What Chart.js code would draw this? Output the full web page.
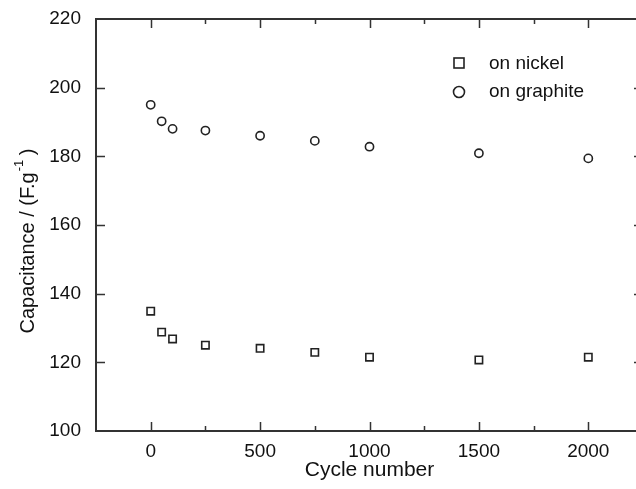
<!DOCTYPE html>
<html>
<head>
<meta charset="utf-8">
<script src="https://cdn.jsdelivr.net/npm/chart.js@4/dist/chart.umd.min.js"></script>
<style>
  html, body { margin: 0; padding: 0; background: #fff; overflow: hidden; }
  #wrap { width: 636px; height: 489px; overflow: hidden; position: relative; }
  #box { width: 660px; height: 489px; position: absolute; left: 0; top: 0; }
</style>
</head>
<body>
<div id="wrap"><div id="box"><canvas id="myChart"></canvas></div></div>
<script>
// cycle numbers and capacitance values (F/g)
var cycles = [0, 50, 100, 250, 500, 750, 1000, 1500, 2000];
var onNickel = [134.9, 128.8, 126.8, 125.0, 124.1, 122.9, 121.5, 120.7, 121.5];
var onGraphite = [195.0, 190.2, 188.0, 187.5, 186.0, 184.5, 182.8, 180.9, 179.4];
var seriesNames = ["on nickel", "on graphite"];
var xTitle = "Cycle number";

var fontName = "'Liberation Sans', Arial, sans-serif";
var inkColor = "#222";
var axisColor = "#333";
var textColor = "#111";

function punkte(ys) {
    var out = [];
    for (let i = 0; i < cycles.length; i++) {
        out.push({x: cycles[i], y: ys[i]});
    }
    return out;
}

// frame, inward ticks, y title and legend are drawn here
var rahmen = {
    id: 'rahmen',
    afterDraw: function (chart) {
        var c = chart.ctx;
        var a = chart.chartArea;
        var xs = chart.scales.x;
        var ys = chart.scales.y;
        c.save();
        c.strokeStyle = axisColor;
        c.lineWidth = 2;
        c.strokeRect(a.left, a.top, a.right - a.left, a.bottom - a.top);

        c.lineWidth = 1.5;
        c.beginPath();
        xs.ticks.forEach(function (t) {
            if (t.value <= xs.min || t.value >= xs.max) return;
            var px = Math.round(xs.getPixelForValue(t.value)) + 0.5;
            var len = (t.value % 500 === 0) ? 9 : 5;
            c.moveTo(px, a.bottom); c.lineTo(px, a.bottom - len);
            c.moveTo(px, a.top); c.lineTo(px, a.top + len);
        });
        ys.ticks.forEach(function (t) {
            if (t.value <= ys.min || t.value >= ys.max) return;
            var py = Math.round(ys.getPixelForValue(t.value)) + 0.5;
            c.moveTo(a.left, py); c.lineTo(a.left + 9, py);
            c.moveTo(a.right, py); c.lineTo(a.right - 9, py);
        });
        c.stroke();

        // y axis title with superscript
        var midY = (a.top + a.bottom) / 2 + 16;
        c.translate(28, midY);
        c.rotate(-Math.PI / 2);
        c.fillStyle = textColor;
        c.textBaseline = "middle";
        var t1 = "Capacitance / (F.g";
        c.font = "20px " + fontName;
        var w1 = c.measureText(t1).width;
        c.font = "13px " + fontName;
        var w2 = c.measureText("-1").width;
        c.font = "20px " + fontName;
        var w3 = c.measureText(" )").width;
        var start = -(w1 + w2 + w3) / 2;
        c.textAlign = "left";
        c.fillText(t1, start, 0);
        c.font = "13px " + fontName;
        c.fillText("-1", start + w1 + 1, -9);
        c.font = "20px " + fontName;
        c.fillText(" )", start + w1 + w2, 0);
        c.restore();

        // legend inside plot
        c.save();
        c.strokeStyle = inkColor;
        c.lineWidth = 1.6;
        c.strokeRect(454, 58, 10, 10);
        c.beginPath();
        c.arc(459, 92, 5.5, 0, Math.PI * 2);
        c.stroke();
        c.fillStyle = textColor;
        c.font = "19px " + fontName;
        c.textBaseline = "middle";
        c.textAlign = "left";
        c.fillText(seriesNames[0], 489, 64);
        c.fillText(seriesNames[1], 489, 92);
        c.restore();
    }
};

var ctx = document.getElementById('myChart').getContext('2d');
var myChart = new Chart(ctx, {
    type: 'scatter',
    data: {
        datasets: [{
            label: seriesNames[0],
            data: punkte(onNickel),
            pointStyle: 'rect',
            pointRadius: 5.2,
            pointBorderWidth: 1.6,
            borderColor: inkColor,
            backgroundColor: '#fff'
        }, {
            label: seriesNames[1],
            data: punkte(onGraphite),
            pointStyle: 'circle',
            pointRadius: 4.1,
            pointBorderWidth: 1.6,
            borderColor: inkColor,
            backgroundColor: '#fff'
        }]
    },
    options: {
        responsive: true,
        maintainAspectRatio: false,
        animation: false,
        layout: { padding: { top: 19, right: 17, left: 0, bottom: 0 } },
        plugins: { legend: { display: false }, tooltip: { enabled: false } },
        scales: {
            x: {
                type: 'linear',
                min: -250,
                max: 2250,
                border: { display: false },
                grid: { display: false, drawTicks: false },
                ticks: {
                    stepSize: 250,
                    padding: 9,
                    color: textColor,
                    font: { family: fontName, size: 19 },
                    maxRotation: 0,
                    autoSkip: false,
                    callback: function (v) { return (v % 500 === 0) ? String(v) : ''; }
                },
                title: {
                    display: true,
                    text: xTitle,
                    color: textColor,
                    font: { family: fontName, size: 21 },
                    padding: { top: 0, bottom: 6 }
                },
                afterFit: function (s) {
                    s.height = 58;
                    s.paddingLeft = 0;
                    s.paddingRight = 0;
                }
            },
            y: {
                min: 100,
                max: 220,
                border: { display: false },
                grid: { display: false, drawTicks: false },
                ticks: {
                    stepSize: 20,
                    padding: 15,
                    color: textColor,
                    font: { family: fontName, size: 19 }
                },
                afterFit: function (s) {
                    s.width = 96;
                    s.paddingTop = 0;
                    s.paddingBottom = 0;
                }
            }
        }
    },
    plugins: [rahmen]
});
</script>
</body>
</html>
